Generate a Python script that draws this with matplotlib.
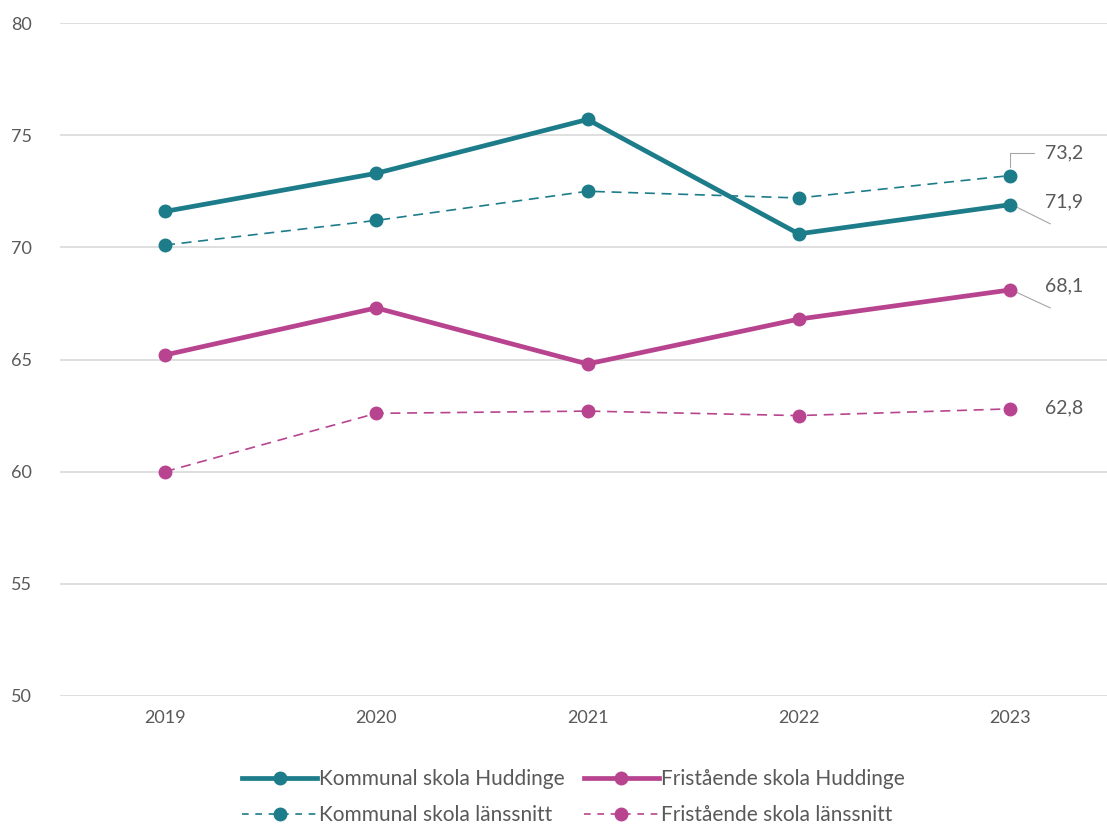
import matplotlib.pyplot as plt
import matplotlib
from matplotlib.lines import Line2D

matplotlib.rcParams.update({
    "font.family": ["Lato", "DejaVu Sans"],
    "font.size": 13,
    "text.color": "#595959",
    "xtick.color": "#595959",
    "ytick.color": "#595959",
})

years = ["2019", "2020", "2021", "2022", "2023"]
kommunal_huddinge = [71.6, 73.3, 75.7, 70.6, 71.9]
kommunal_lan = [70.1, 71.2, 72.5, 72.2, 73.2]
fristaende_huddinge = [65.2, 67.3, 64.8, 66.8, 68.1]
fristaende_lan = [60.0, 62.6, 62.7, 62.5, 62.8]

teal = "#1C7C89"
pink = "#B8448F"

fig = plt.figure(figsize=(11.07, 8.27), dpi=100)
ax = fig.add_axes([60 / 1107, 1 - 696 / 827, 1 - 60 / 1107, (696 - 23) / 827])

x = list(range(len(years)))
ax.plot(x, kommunal_huddinge, color=teal, lw=3.4, marker="o", ms=9, zorder=4)
ax.plot(x, kommunal_lan, color=teal, lw=1.2, ls=(0, (6, 4)), marker="o", ms=9, zorder=3)
ax.plot(x, fristaende_huddinge, color=pink, lw=3.4, marker="o", ms=9, zorder=4)
ax.plot(x, fristaende_lan, color=pink, lw=1.2, ls=(0, (6, 4)), marker="o", ms=9, zorder=3)

ax.set_xlim(-0.497, 4.459)
ax.set_ylim(50, 80)
ax.set_yticks(range(50, 81, 5))
ax.set_xticks(x)
ax.set_xticklabels(years)
ax.grid(axis="y", color="#D9D9D9", lw=1.2)
ax.set_axisbelow(True)
for s in ax.spines.values():
    s.set_visible(False)
ax.tick_params(length=0, labelsize=13, pad=10)
ax.tick_params(axis="y", pad=20)

# data labels for 2023 with leader lines
last = x[-1]
ax.annotate(f"{kommunal_lan[-1]:.1f}".replace(".", ","), (last, kommunal_lan[-1]),
            xytext=(25, 16), textcoords="offset points", fontsize=14, va="center",
            arrowprops=dict(arrowstyle="-", color="#A6A6A6", lw=0.8,
                            connectionstyle="angle,angleA=0,angleB=90,rad=0",
                            shrinkA=6, shrinkB=6))
ax.annotate(f"{kommunal_huddinge[-1]:.1f}".replace(".", ","), (last, kommunal_huddinge[-1]),
            xytext=(25, 2), textcoords="offset points", fontsize=14, va="center")
ax.plot([last + 0.03, last + 0.19], [kommunal_huddinge[-1] - 0.1, kommunal_huddinge[-1] - 0.85],
        color="#A6A6A6", lw=0.8)
ax.annotate(f"{fristaende_huddinge[-1]:.1f}".replace(".", ","), (last, fristaende_huddinge[-1]),
            xytext=(25, 3), textcoords="offset points", fontsize=14, va="center")
ax.plot([last + 0.03, last + 0.19], [fristaende_huddinge[-1] - 0.1, fristaende_huddinge[-1] - 0.8],
        color="#A6A6A6", lw=0.8)
ax.annotate(f"{fristaende_lan[-1]:.1f}".replace(".", ","), (last, fristaende_lan[-1]),
            xytext=(25, 1), textcoords="offset points", fontsize=14, va="center")

# legend filled column-wise: col 1 = Kommunal, col 2 = Fristående
handles = [
    Line2D([], [], color=teal, lw=3.4, marker="o", ms=9),
    Line2D([], [], color=teal, lw=1.2, ls=(0, (4, 4)), marker="o", ms=9),
    Line2D([], [], color=pink, lw=3.4, marker="o", ms=9),
    Line2D([], [], color=pink, lw=1.2, ls=(0, (4, 4)), marker="o", ms=9),
]
labels = ["Kommunal skola Huddinge", "Kommunal skola länssnitt",
          "Fristående skola Huddinge", "Fristående skola länssnitt"]
fig.legend(handles, labels, loc="center", bbox_to_anchor=(0.518, 1 - 797 / 827),
           ncol=2, frameon=False, fontsize=15, handlelength=3.6, handletextpad=0.1,
           columnspacing=0.9, labelspacing=0.75, labelcolor="#595959")

fig.savefig("out.png", dpi=100)
